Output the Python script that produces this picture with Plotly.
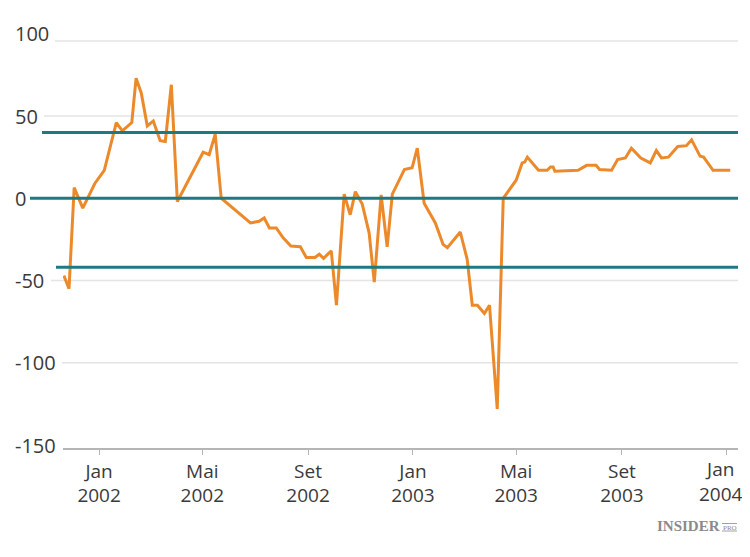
import plotly.graph_objects as go

# index values
dates = [
    "2001-11-21", "2001-11-27", "2001-12-03", "2001-12-13", "2001-12-27",
    "2002-01-07", "2002-01-21", "2002-01-28", "2002-02-08", "2002-02-13",
    "2002-02-19", "2002-02-26", "2002-03-05", "2002-03-13", "2002-03-19",
    "2002-03-26", "2002-04-02", "2002-05-02", "2002-05-09", "2002-05-16",
    "2002-05-23", "2002-06-08", "2002-06-26", "2002-07-06", "2002-07-12",
    "2002-07-18", "2002-07-26", "2002-08-03", "2002-08-12", "2002-08-23",
    "2002-08-30", "2002-09-09", "2002-09-14", "2002-09-19", "2002-09-28",
    "2002-10-04", "2002-10-13", "2002-10-20", "2002-10-26", "2002-11-03",
    "2002-11-11", "2002-11-17", "2002-11-25", "2002-12-02", "2002-12-08",
    "2002-12-22", "2002-12-31", "2003-01-06", "2003-01-14", "2003-01-27",
    "2003-02-05", "2003-02-10", "2003-02-25", "2003-03-05", "2003-03-11",
    "2003-03-17", "2003-03-25", "2003-03-31", "2003-04-09", "2003-04-16",
    "2003-05-01", "2003-05-08", "2003-05-11", "2003-05-14", "2003-05-27",
    "2003-06-06", "2003-06-10", "2003-06-13", "2003-06-15", "2003-07-12",
    "2003-07-22", "2003-08-02", "2003-08-06", "2003-08-20", "2003-08-27",
    "2003-09-05", "2003-09-12", "2003-09-23", "2003-10-04", "2003-10-11",
    "2003-10-17", "2003-10-25", "2003-11-05", "2003-11-15", "2003-11-21",
    "2003-12-01", "2003-12-05", "2003-12-16", "2004-01-05",
]
values = [
    -47, -55, 6.5, -6, 9,
    17, 46, 41, 46, 73,
    64, 44, 47, 35, 34.5,
    69, -2, 28, 26.5, 39,
    0, -7, -15, -14, -12,
    -18, -18, -24, -29, -29.5,
    -36, -36, -34, -36.5, -32,
    -65, 2.5, -10, 4, -3.5,
    -21, -51, 2, -29.5, 2.5,
    17.5, 18.5, 30.5, -3, -15,
    -28, -30, -20.5, -37, -65,
    -65, -70, -65, -128, 0,
    11, 21.5, 22, 25, 17,
    17, 19, 19, 16.5, 17,
    20, 20, 17.5, 17, 23.5,
    24.5, 30.5, 24.5, 21.5, 29,
    24.5, 25, 31.5, 32, 35.5,
    25.5, 25, 17, 17,
]

ref_levels = [40, 0, -42]
ref_starts_px = [42, 30, 56]  # page x where each teal line begins

y_ticks = [100, 50, 0, -50, -100, -150]
x_ticks = ["2002-01-01", "2002-05-01", "2002-09-01", "2003-01-01",
           "2003-05-01", "2003-09-01", "2004-01-01"]
x_labels = ["Jan<br>2002", "Mai<br>2002", "Set<br>2002", "Jan<br>2003",
            "Mai<br>2003", "Set<br>2003", "Jan<br>2004"]

# the page body has an 8px margin; the figure starts at (8, 8) on the page
OFF = 8
W, H = 750 - 2 * OFF, 557 - 2 * OFF
plot_left, plot_right = 63, 738     # page pixels
plot_top, plot_bottom = 41, 448
L, R = plot_left - OFF, W - (plot_right - OFF)
T, B = plot_top - OFF, H - (plot_bottom - OFF)
plot_w = plot_right - plot_left
plot_h = plot_bottom - plot_top
y_range = [-151.8, 95.6]
font_name = "Open Sans"
label_x_px = 14
text_color = "#3a3a3a"
brand_color = "#8a8a8a"


def xpaper(px):
    return (px - plot_left) / plot_w


def ypaper(v):
    return (v - y_range[0]) / (y_range[1] - y_range[0])


def ypage(py):
    return -(py - plot_bottom) / plot_h


fig = go.Figure()

# light grid lines, starting just after each left-aligned label
for v in y_ticks[:-1]:
    s = str(v)
    width = 11 * len(s.replace("-", "")) + (7 if v < 0 else 0)
    yy = min(ypaper(v), 1)
    fig.add_shape(type="line", xref="paper", yref="paper",
                  x0=xpaper(label_x_px + width + 8), x1=1, y0=yy, y1=yy,
                  line=dict(color="#e4e4e4", width=1.5), layer="below")

for lvl, start in zip(ref_levels, ref_starts_px):
    fig.add_shape(type="line", xref="paper", yref="y",
                  x0=xpaper(start), x1=1, y0=lvl, y1=lvl,
                  line=dict(color="#1b7b80", width=3))

fig.add_trace(go.Scatter(
    x=dates, y=values, mode="lines",
    line=dict(color="#ec8a2b", width=3),
    showlegend=False, hoverinfo="x+y",
))

for v in y_ticks:
    fig.add_annotation(text=str(v), x=xpaper(label_x_px), xref="paper",
                       y=ypaper(v), yref="paper", xanchor="left",
                       yanchor="middle", showarrow=False, borderpad=0,
                       font=dict(family=font_name, size=20, color=text_color))

# the last tick label would be cut by the page edge, so it is placed by hand
fig.add_annotation(text=x_labels[-1], x=x_ticks[-1], xref="x",
                   y=ypage(481), yref="paper",
                   xanchor="center", yanchor="middle", xshift=-6,
                   showarrow=False, borderpad=0,
                   font=dict(family=font_name, size=19, color=text_color))

# INSIDER PRO mark, bottom right
fig.add_annotation(
    text="<b>INSIDER</b>", x=xpaper(721), xref="paper",
    y=ypage(526), yref="paper",
    xanchor="right", yanchor="middle", showarrow=False, borderpad=0,
    font=dict(family="Liberation Serif", size=15, color=brand_color))
fig.add_annotation(
    text="PRO", x=xpaper(722), xref="paper",
    y=ypage(527.5), yref="paper",
    xanchor="left", yanchor="middle", showarrow=False, borderpad=0,
    font=dict(family="Liberation Serif", size=7, color=brand_color))
for py in (523.5, 531):
    fig.add_shape(type="line", xref="paper", yref="paper",
                  x0=xpaper(722), x1=xpaper(737), y0=ypage(py), y1=ypage(py),
                  line=dict(color=brand_color, width=0.8))

fig.update_layout(
    width=W, height=H,
    margin=dict(l=L, r=R, t=T, b=B),
    plot_bgcolor="white", paper_bgcolor="white",
    font=dict(family=font_name, size=19, color=text_color),
    xaxis=dict(
        type="date", range=["2001-11-20", "2004-01-14"],
        tickvals=x_ticks, ticktext=x_labels[:-1] + [""],
        showgrid=False, zeroline=False,
        showline=True, linecolor="#b5b5b5", linewidth=1.5,
        ticks="outside", ticklen=5, tickcolor="#b5b5b5", tickwidth=1,
        tickfont=dict(family=font_name, size=19, color=text_color),
    ),
    yaxis=dict(
        range=y_range, showgrid=False, zeroline=False,
        showticklabels=False, showline=False, ticks="",
    ),
)

fig.write_html("out.html")
